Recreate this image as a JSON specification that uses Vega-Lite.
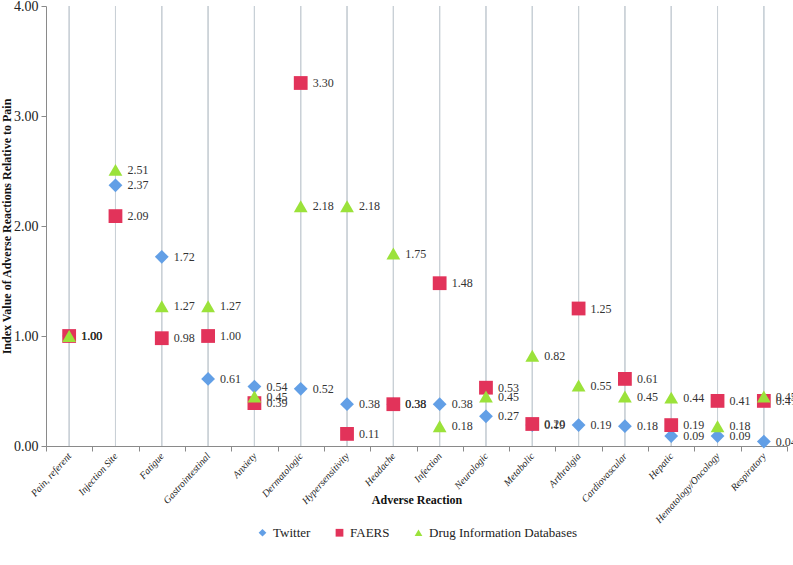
{
  "$schema": "https://vega.github.io/schema/vega-lite/v6.json",
  "width": 741,
  "height": 440,
  "autosize": {"type": "none"},
  "padding": {"left": 46, "top": 6, "right": 6, "bottom": 119},
  "background": "white",
  "config": {
    "font": "Liberation Serif",
    "view": {"stroke": null},
    "axis": {"domainColor": "#8a8a8a", "tickColor": "#8a8a8a", "labelColor": "#222", "titleColor": "#111", "grid": false, "labelFont": "Liberation Serif", "titleFont": "Liberation Serif"},
    "legend": {"labelFont": "Liberation Serif", "layout": {"bottom": {"anchor": "middle"}}},
    "text": {"font": "Liberation Serif"}
  },
  "data": {
    "values": [
      {"reaction": "Pain, referent", "source": "Twitter", "value": 1.00},
      {"reaction": "Injection Site", "source": "Twitter", "value": 2.37},
      {"reaction": "Fatigue", "source": "Twitter", "value": 1.72},
      {"reaction": "Gastrointestinal", "source": "Twitter", "value": 0.61},
      {"reaction": "Anxiety", "source": "Twitter", "value": 0.54},
      {"reaction": "Dermatologic", "source": "Twitter", "value": 0.52},
      {"reaction": "Hypersensitivity", "source": "Twitter", "value": 0.38},
      {"reaction": "Headache", "source": "Twitter", "value": 0.38},
      {"reaction": "Infection", "source": "Twitter", "value": 0.38},
      {"reaction": "Neurologic", "source": "Twitter", "value": 0.27},
      {"reaction": "Metabolic", "source": "Twitter", "value": 0.19},
      {"reaction": "Arthralgia", "source": "Twitter", "value": 0.19},
      {"reaction": "Cardiovascular", "source": "Twitter", "value": 0.18},
      {"reaction": "Hepatic", "source": "Twitter", "value": 0.09},
      {"reaction": "Hematology/Oncology", "source": "Twitter", "value": 0.09},
      {"reaction": "Respiratory", "source": "Twitter", "value": 0.04},
      {"reaction": "Pain, referent", "source": "FAERS", "value": 1.00},
      {"reaction": "Injection Site", "source": "FAERS", "value": 2.09},
      {"reaction": "Fatigue", "source": "FAERS", "value": 0.98},
      {"reaction": "Gastrointestinal", "source": "FAERS", "value": 1.00},
      {"reaction": "Anxiety", "source": "FAERS", "value": 0.39},
      {"reaction": "Dermatologic", "source": "FAERS", "value": 3.30},
      {"reaction": "Hypersensitivity", "source": "FAERS", "value": 0.11},
      {"reaction": "Headache", "source": "FAERS", "value": 0.38},
      {"reaction": "Infection", "source": "FAERS", "value": 1.48},
      {"reaction": "Neurologic", "source": "FAERS", "value": 0.53},
      {"reaction": "Metabolic", "source": "FAERS", "value": 0.20},
      {"reaction": "Arthralgia", "source": "FAERS", "value": 1.25},
      {"reaction": "Cardiovascular", "source": "FAERS", "value": 0.61},
      {"reaction": "Hepatic", "source": "FAERS", "value": 0.19},
      {"reaction": "Hematology/Oncology", "source": "FAERS", "value": 0.41},
      {"reaction": "Respiratory", "source": "FAERS", "value": 0.41},
      {"reaction": "Pain, referent", "source": "Drug Information Databases", "value": 1.00},
      {"reaction": "Injection Site", "source": "Drug Information Databases", "value": 2.51},
      {"reaction": "Fatigue", "source": "Drug Information Databases", "value": 1.27},
      {"reaction": "Gastrointestinal", "source": "Drug Information Databases", "value": 1.27},
      {"reaction": "Anxiety", "source": "Drug Information Databases", "value": 0.45},
      {"reaction": "Dermatologic", "source": "Drug Information Databases", "value": 2.18},
      {"reaction": "Hypersensitivity", "source": "Drug Information Databases", "value": 2.18},
      {"reaction": "Headache", "source": "Drug Information Databases", "value": 1.75},
      {"reaction": "Infection", "source": "Drug Information Databases", "value": 0.18},
      {"reaction": "Neurologic", "source": "Drug Information Databases", "value": 0.45},
      {"reaction": "Metabolic", "source": "Drug Information Databases", "value": 0.82},
      {"reaction": "Arthralgia", "source": "Drug Information Databases", "value": 0.55},
      {"reaction": "Cardiovascular", "source": "Drug Information Databases", "value": 0.45},
      {"reaction": "Hepatic", "source": "Drug Information Databases", "value": 0.44},
      {"reaction": "Hematology/Oncology", "source": "Drug Information Databases", "value": 0.18},
      {"reaction": "Respiratory", "source": "Drug Information Databases", "value": 0.45}
    ]
  },
  "encoding": {
    "x": {
      "field": "reaction", "type": "nominal",
      "sort": ["Pain, referent", "Injection Site", "Fatigue", "Gastrointestinal", "Anxiety", "Dermatologic", "Hypersensitivity", "Headache", "Infection", "Neurologic", "Metabolic", "Arthralgia", "Cardiovascular", "Hepatic", "Hematology/Oncology", "Respiratory"],
      "scale": {"paddingInner": 0, "paddingOuter": 0},
      "axis": {
        "title": "Adverse Reaction", "titleFontSize": 12, "titleFontWeight": "bold", "titlePadding": -30,
        "labelAngle": -48, "labelFontStyle": "italic", "labelFontSize": 10, "labelPadding": 3,
        "tickBand": "extent", "tickSize": 5
      }
    }
  },
  "layer": [
    {
      "mark": {"type": "rule", "color": "#c9d0d6", "strokeWidth": 1},
      "encoding": {}
    },
    {
      "mark": {"type": "point", "filled": true, "opacity": 1, "size": 190},
      "encoding": {
        "y": {
          "field": "value", "type": "quantitative",
          "scale": {"domain": [0, 4]},
          "axis": {"title": "Index Value of Adverse Reactions Relative to Pain", "titleFontSize": 12, "titleFontWeight": "bold", "titlePadding": 0, "values": [0, 1, 2, 3, 4], "format": ".2f", "labelFontSize": 14, "tickSize": 5, "labelPadding": 3}
        },
        "color": {
          "field": "source", "type": "nominal",
          "scale": {"domain": ["Twitter", "FAERS", "Drug Information Databases"], "range": ["#629fe6", "#e2335a", "#9be23a"]},
          "legend": {"title": null, "orient": "bottom", "direction": "horizontal", "labelFont": "Liberation Serif", "labelFontSize": 13, "labelColor": "#222", "symbolSize": 60, "columnPadding": 22, "offset": 1}
        },
        "shape": {
          "field": "source", "type": "nominal",
          "scale": {"domain": ["Twitter", "FAERS", "Drug Information Databases"], "range": ["diamond", "square", "triangle-up"]},
          "legend": {"title": null, "orient": "bottom", "direction": "horizontal", "labelFont": "Liberation Serif", "labelFontSize": 13, "labelColor": "#222", "symbolSize": 60, "columnPadding": 22, "offset": 1}
        }
      }
    },
    {
      "mark": {"type": "text", "align": "left", "baseline": "middle", "dx": 12, "fontSize": 12, "color": "#333", "font": "Liberation Serif"},
      "encoding": {
        "y": {"field": "value", "type": "quantitative"},
        "text": {"field": "value", "type": "quantitative", "format": ".2f"}
      }
    }
  ]
}
